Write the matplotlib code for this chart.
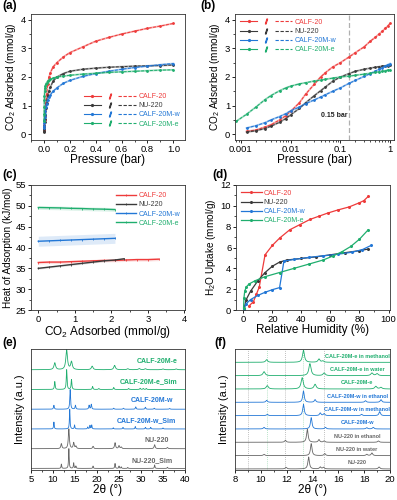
import numpy as np
import matplotlib
matplotlib.use('Agg')
import matplotlib.pyplot as plt
from matplotlib.lines import Line2D
from matplotlib.legend_handler import HandlerTuple
from matplotlib.ticker import MultipleLocator, NullLocator, LogLocator, NullFormatter

plt.rcParams['font.family'] = ['Liberation Sans', 'DejaVu Sans']
plt.rcParams['font.size'] = 7
plt.rcParams['axes.linewidth'] = 0.6
plt.rcParams['axes.edgecolor'] = '#333333'
for a in ['xtick', 'ytick']:
    plt.rcParams[a + '.major.size'] = 2.2
    plt.rcParams[a + '.minor.size'] = 1.3
    plt.rcParams[a + '.major.width'] = 0.6
    plt.rcParams[a + '.minor.width'] = 0.5
    plt.rcParams[a + '.major.pad'] = 1.2
    plt.rcParams[a + '.labelsize'] = 6.8

RED = '#ee3b3b'
BLK = '#3a3a3a'
BLU = '#2277d6'
GRN = '#1fae6e'
GRY = '#666666'

names = ['CALF-20', 'NU-220', 'CALF-20M-w', 'CALF-20M-e']
colors = [RED, BLK, BLU, GRN]

# ---- CO2 isotherms (a), (b) ----
p_calf20 = [0.0013, 0.002, 0.003, 0.004, 0.006, 0.008, 0.01, 0.015, 0.02, 0.03, 0.04, 0.05,
            0.07, 0.1, 0.15, 0.2, 0.3, 0.4, 0.5, 0.6, 0.7, 0.8, 0.9, 1.0]
q_calf20 = [0.1, 0.15, 0.25, 0.33, 0.5, 0.65, 0.8, 1.1, 1.4, 1.75, 2.0, 2.15,
            2.35, 2.5, 2.7, 2.85, 3.05, 3.25, 3.38, 3.5, 3.6, 3.7, 3.78, 3.87]
p_nu220 = p_calf20
q_nu220 = [0.08, 0.12, 0.2, 0.28, 0.42, 0.55, 0.68, 0.9, 1.1, 1.35, 1.52, 1.65,
           1.85, 2.0, 2.12, 2.2, 2.27, 2.31, 2.34, 2.36, 2.38, 2.39, 2.4, 2.42]
p_mw = p_calf20
q_mw = [0.22, 0.3, 0.4, 0.5, 0.62, 0.72, 0.82, 0.95, 1.07, 1.2, 1.3, 1.38,
        1.5, 1.62, 1.78, 1.88, 2.02, 2.12, 2.2, 2.27, 2.33, 2.38, 2.43, 2.47]
p_me = [0.0008, 0.0013, 0.002, 0.003, 0.004, 0.006, 0.008, 0.01, 0.015, 0.02, 0.03, 0.04, 0.05,
        0.07, 0.1, 0.15, 0.2, 0.3, 0.4, 0.5, 0.6, 0.7, 0.8, 0.9, 1.0]
q_me = [0.45, 0.7, 0.95, 1.2, 1.35, 1.52, 1.62, 1.68, 1.76, 1.8, 1.86, 1.89, 1.92,
        1.96, 2.0, 2.03, 2.06, 2.1, 2.13, 2.16, 2.18, 2.2, 2.22, 2.24, 2.25]
iso_p = [p_calf20, p_nu220, p_mw, p_me]
iso_q = [q_calf20, q_nu220, q_mw, q_me]

# ---- heat of adsorption (c) ----
hq_calf20 = [0.0, 0.3, 0.6, 0.9, 1.2, 1.5, 1.8, 2.1, 2.4, 2.7, 3.0, 3.3]
h_calf20 = [36.4, 36.5, 36.5, 36.6, 36.7, 36.8, 36.9, 36.9, 37.0, 37.1, 37.1, 37.2]
hq_nu220 = [0.0, 0.3, 0.6, 0.9, 1.2, 1.5, 1.8, 2.1, 2.35]
h_nu220 = [35.0, 35.3, 35.6, 35.9, 36.2, 36.5, 36.8, 37.0, 37.3]
hq_mw = [0.0, 0.3, 0.6, 0.9, 1.2, 1.5, 1.8, 2.1]
h_mw = [41.5, 41.6, 41.7, 41.8, 41.9, 42.0, 42.1, 42.2]
hq_me = [0.0, 0.3, 0.6, 0.9, 1.2, 1.5, 1.8, 2.1]
h_me = [49.6, 49.55, 49.5, 49.4, 49.35, 49.25, 49.2, 49.1]
h_err = [0.35, 0.2, 1.2, 0.45]
hq = [hq_calf20, hq_nu220, hq_mw, hq_me]
hh = [h_calf20, h_nu220, h_mw, h_me]

# ---- water isotherms (d) ----
rh_calf20 = [4, 7, 9, 11, 15, 20, 25, 32, 39, 46, 52, 58, 65, 73, 80, 83, 86]
w_calf20 = [0.4, 0.8, 1.5, 2.2, 5.3, 6.2, 6.9, 7.7, 8.2, 8.7, 9.0, 9.3, 9.6, 9.9, 10.3, 10.5, 10.9]
rh_nu220 = [0.5, 2, 5, 10, 15, 20, 25, 30, 40, 50, 60, 70, 80, 86]
w_nu220 = [0.1, 1.0, 1.8, 2.8, 3.6, 4.2, 4.6, 4.8, 4.95, 5.1, 5.3, 5.5, 5.7, 5.85]
rh_mw = [0.5, 2, 5, 10, 15, 20, 25, 28, 35, 45, 55, 65, 75, 82, 88]
w_mw = [0.1, 0.6, 1.0, 1.4, 1.7, 1.95, 2.15, 4.7, 4.85, 5.05, 5.2, 5.35, 5.55, 5.8, 6.2]
rh_me = [0.2, 0.5, 1, 2, 4, 8, 15, 25, 35, 45, 55, 62, 68, 74, 80, 86]
w_me = [0.2, 1.2, 1.8, 2.2, 2.5, 2.8, 3.2, 3.6, 4.0, 4.4, 4.8, 5.2, 5.6, 6.1, 6.8, 7.7]
rh = [rh_calf20, rh_nu220, rh_mw, rh_me]
ww = [w_calf20, w_nu220, w_mw, w_me]

# ---- PXRD (e): top to bottom ----
e_labels = ['CALF-20M-e', 'CALF-20M-e_Sim', 'CALF-20M-w', 'CALF-20M-w_Sim', 'NU-220', 'NU-220_Sim']
e_colors = [GRN, GRN, BLU, BLU, GRY, GRY]
e_pos = [[10.4, 13.1, 14.2, 18.9, 24.0, 27.0, 29.6, 31.0, 35.0, 38.0],
         [10.4, 13.1, 14.2, 19.0, 20.4, 23.8, 27.2, 29.8, 30.5, 31.2],
         [10.2, 13.9, 15.1, 18.2, 18.7, 23.8, 26.0, 28.8, 31.0, 33.0, 36.5],
         [10.2, 13.8, 14.9, 17.9, 18.4, 18.8, 23.7, 25.9, 28.7, 31.0, 32.2, 35.0],
         [11.9, 13.6, 14.7, 15.2, 19.1, 24.1, 25.0, 25.5, 33.1, 36.0],
         [11.9, 13.6, 14.7, 15.2, 19.1, 24.1, 25.0, 25.5, 27.0, 33.1, 36.0]]
e_hgt = [[0.35, 1.0, 0.4, 0.18, 0.22, 0.05, 0.06, 0.05, 0.04, 0.04],
         [0.4, 1.0, 0.5, 0.15, 0.05, 0.1, 0.05, 0.06, 0.05, 0.05],
         [0.2, 1.0, 0.2, 0.2, 0.25, 0.05, 0.05, 0.12, 0.1, 0.05, 0.04],
         [0.35, 1.0, 0.2, 0.1, 0.18, 0.2, 0.06, 0.08, 0.12, 0.08, 0.08, 0.05],
         [0.25, 1.0, 0.3, 0.12, 0.12, 0.3, 0.15, 0.08, 0.2, 0.06],
         [0.22, 1.0, 0.28, 0.12, 0.12, 0.25, 0.12, 0.08, 0.05, 0.18, 0.06]]
e_wid = [0.22, 0.1, 0.1, 0.08, 0.14, 0.08]

# ---- PXRD (f): top to bottom ----
f_labels = ['CALF-20M-e in methanol', 'CALF-20M-e in water', 'CALF-20M-e',
            'CALF-20M-w in ethanol', 'CALF-20M-w in methanol', 'CALF-20M-w',
            'NU-220 in ethanol', 'NU-220 in water', 'NU-220']
f_colors = [GRN, GRN, GRN, BLU, BLU, BLU, GRY, GRY, GRY]
f_pos = [[10.45, 13.3, 14.5, 14.8],
         [10.25, 13.8, 14.9, 18.6, 19.0],
         [10.5, 13.2, 14.2, 18.9, 19.3],
         [10.45, 13.3, 14.2, 18.1, 19.3],
         [10.5, 13.3, 14.6, 14.9, 17.8, 19.2],
         [10.25, 13.9, 15.0, 18.2, 18.7],
         [11.9, 13.6, 14.5, 14.9, 19.1],
         [10.25, 13.9, 14.95, 18.2, 18.6],
         [11.95, 13.7, 14.6, 14.85, 19.15]]
f_hgt = [[0.2, 0.9, 0.25, 0.1],
         [0.3, 0.9, 0.2, 0.2, 0.15],
         [0.25, 0.85, 0.35, 0.2, 0.12],
         [0.15, 0.85, 0.2, 0.12, 0.2],
         [0.1, 0.85, 0.2, 0.15, 0.1, 0.3],
         [0.12, 0.85, 0.12, 0.1, 0.12],
         [0.15, 1.0, 0.2, 0.1, 0.1],
         [0.1, 0.9, 0.15, 0.1, 0.2],
         [0.12, 0.9, 0.15, 0.12, 0.15]]
f_wid = [0.09, 0.1, 0.1, 0.07, 0.07, 0.07, 0.07, 0.07, 0.07]
f_vlines = [9.0, 10.45, 11.9, 13.25, 14.9]
f_vcolors = ['#aaaaaa', '#9fd9b5', '#aaaaaa', '#9fd9b5', '#aaaaaa']

W, H = 397, 500
fig = plt.figure(figsize=(W / 100, H / 100), dpi=100)


def add_ax(l, t, r, b):
    return fig.add_axes([l / W, 1 - b / H, (r - l) / W, (b - t) / H])


CO2_LABEL = 'CO$_\\mathregular{2}$ Adsorbed (mmol/g)'
XL = 8.5   # x label size
YL = 7.2   # y label size


def iso_legend(ax, loc, bbox):
    handles = []
    for c in colors:
        h1 = Line2D([], [], color=c, lw=0.8, marker='o', ms=1.3, markevery=[1])
        h2 = Line2D([], [], color=c, lw=0, marker='$/$', ms=3.5)
        h3 = Line2D([], [], color=c, lw=0.8, ls=(0, (3, 1.5)))
        handles.append((h1, h2, h3))
    leg = ax.legend(handles, names, handler_map={tuple: HandlerTuple(ndivide=3, pad=0)},
                    loc=loc, bbox_to_anchor=bbox, frameon=False, fontsize=5,
                    handlelength=7.5, handletextpad=0.4, labelspacing=0.3, borderpad=0.2)
    for t, c in zip(leg.get_texts(), colors):
        t.set_color(c)


def draw_iso(ax):
    for p, q, c in zip(iso_p, iso_q, colors):
        ax.plot(p, q, color=c, lw=1.3, alpha=0.45)
        ax.plot(p, q, color=c, lw=0.7, marker='o', ms=1.0, ls=(0, (3, 1.5)))


# (a)
ax = add_ax(31, 14, 185, 140)
draw_iso(ax)
ax.set_xlim(-0.1, 1.09)
ax.set_ylim(-0.2, 4.2)
ax.xaxis.set_major_locator(MultipleLocator(0.2))
ax.xaxis.set_minor_locator(MultipleLocator(0.1))
ax.yaxis.set_major_locator(MultipleLocator(1))
ax.yaxis.set_minor_locator(MultipleLocator(0.5))
ax.set_xlabel('Pressure (bar)', fontsize=XL, labelpad=0)
ax.set_ylabel(CO2_LABEL, fontsize=YL, labelpad=2)
iso_legend(ax, 'lower right', (1.0, 0.06))

# (b)
ax = add_ax(235, 14, 394, 140)
draw_iso(ax)
ax.set_xscale('log')
ax.set_xlim(7.6e-4, 1.2)
ax.set_ylim(-0.2, 4.2)
ax.set_xticks([0.001, 0.01, 0.1, 1])
ax.set_xticklabels(['0.001', '0.01', '0.1', '1'])
ax.xaxis.set_minor_locator(LogLocator(base=10, subs=np.arange(2, 10)))
ax.xaxis.set_minor_formatter(NullFormatter())
ax.yaxis.set_major_locator(MultipleLocator(1))
ax.yaxis.set_minor_locator(MultipleLocator(0.5))
ax.axvline(0.15, color='#b0b0b0', lw=0.9, ls=(0, (4, 2)), zorder=0)
ax.text(0.14, 0.65, '0.15 bar', fontsize=5, fontweight='bold', ha='right', va='center', color='#222222')
ax.set_xlabel('Pressure (bar)', fontsize=XL, labelpad=0)
ax.set_ylabel(CO2_LABEL, fontsize=YL, labelpad=2)
iso_legend(ax, 'upper left', (0.0, 1.0))

# (c)
ax = add_ax(31, 185, 185, 310)
for x, y, c, e, n in zip(hq, hh, colors, h_err, names):
    y = np.array(y)
    ax.fill_between(x, y - e, y + e, color=c, alpha=0.15, lw=0)
    ax.plot(x, y, color=c, lw=1.0, marker='|', ms=2, mew=0.6, label=n)
ax.set_xlim(-0.2, 4.02)
ax.set_ylim(25, 55)
ax.xaxis.set_major_locator(MultipleLocator(1))
ax.xaxis.set_minor_locator(MultipleLocator(0.5))
ax.yaxis.set_major_locator(MultipleLocator(5))
ax.yaxis.set_minor_locator(MultipleLocator(2.5))
ax.set_xlabel(CO2_LABEL, fontsize=XL, labelpad=0)
ax.set_ylabel('Heat of Adsorption (kJ/mol)', fontsize=YL, labelpad=2)
leg = ax.legend(loc='upper right', bbox_to_anchor=(1.0, 0.98), frameon=False, fontsize=5,
                handlelength=3, handletextpad=0.3, labelspacing=0.3, borderpad=0.2)
for t, c in zip(leg.get_texts(), colors):
    t.set_color(c)

# (d)
ax = add_ax(236, 185, 390, 310)
for x, y, c, n in zip(rh, ww, colors, names):
    ax.plot(x, y, color=c, lw=0.9, marker='o', ms=1.2, label=n)
ax.set_xlim(-5, 101)
ax.set_ylim(0, 12)
ax.xaxis.set_major_locator(MultipleLocator(20))
ax.xaxis.set_minor_locator(MultipleLocator(10))
ax.yaxis.set_major_locator(MultipleLocator(2))
ax.yaxis.set_minor_locator(MultipleLocator(1))
ax.set_xlabel('Relative Humidity (%)', fontsize=XL, labelpad=0)
ax.set_ylabel('H$_\\mathregular{2}$O Uptake (mmol/g)', fontsize=YL, labelpad=2)
leg = ax.legend(loc='upper left', bbox_to_anchor=(0.0, 1.0), frameon=False, fontsize=5,
                handlelength=3, handletextpad=0.3, labelspacing=0.3, borderpad=0.2)
for t, c in zip(leg.get_texts(), colors):
    t.set_color(c)


def pattern(x, pos, hgt, wid):
    y = np.zeros_like(x)
    for p0, h0 in zip(pos, hgt):
        y += h0 / (1 + ((x - p0) / wid) ** 2)
    return y


# (e)
ax = add_ax(31, 349, 185, 470)
xe = np.linspace(5, 40, 3000)
e_text_x = [38.4, 38.2, 37.3, 38.0, 36.4, 37.3]
for i in range(len(e_labels)):
    off = len(e_labels) - 1 - i
    ax.plot(xe, pattern(xe, e_pos[i], e_hgt[i], e_wid[i]) + off, color=e_colors[i], lw=0.6)
    ax.text(e_text_x[i], off + 0.42, e_labels[i], color=e_colors[i], fontsize=5,
            fontweight='bold', ha='right', va='center')
ax.set_xlim(5, 40)
ax.set_ylim(-0.08, 6.05)
ax.xaxis.set_major_locator(MultipleLocator(5))
ax.xaxis.set_minor_locator(MultipleLocator(2.5))
ax.yaxis.set_major_locator(NullLocator())
ax.set_xlabel('2θ (°)', fontsize=XL, labelpad=0)
ax.set_ylabel('Intensity (a.u.)', fontsize=YL + 0.6, labelpad=4)

# (f)
ax = add_ax(235, 349, 390, 470)
xf = np.linspace(8, 20, 3000)
for v, vc in zip(f_vlines, f_vcolors):
    ax.axvline(v, color=vc, lw=0.6, ls=(0, (1, 1.5)), zorder=0)
for i in range(len(f_labels)):
    off = len(f_labels) - 1 - i
    ax.plot(xf, pattern(xf, f_pos[i], f_hgt[i], f_wid[i]) + off, color=f_colors[i], lw=0.6)
    ax.text(17.45, off + 0.45, f_labels[i], color=f_colors[i], fontsize=4.0,
            fontweight='bold', ha='center', va='center')
ax.set_xlim(8, 20)
ax.set_ylim(-0.08, 9.0)
ax.xaxis.set_major_locator(MultipleLocator(2))
ax.xaxis.set_minor_locator(MultipleLocator(1))
ax.yaxis.set_major_locator(NullLocator())
ax.set_xlabel('2θ (°)', fontsize=XL, labelpad=0)
ax.set_ylabel('Intensity (a.u.)', fontsize=YL + 0.6, labelpad=4)

for lab, x, y in [('(a)', 2, 6), ('(b)', 200, 6), ('(c)', 2, 175), ('(d)', 212, 175),
                  ('(e)', 2, 343), ('(f)', 214, 343)]:
    fig.text(x / W, 1 - y / H, lab, fontsize=8.5, fontweight='bold', va='center', ha='left')

fig.savefig('out.png', dpi=100)
